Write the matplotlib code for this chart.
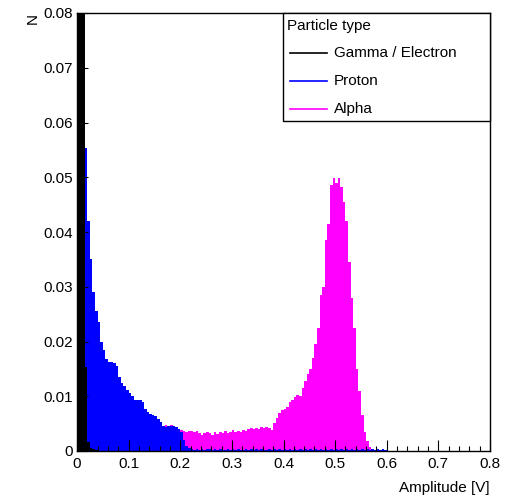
import numpy as np
import matplotlib
matplotlib.use('Agg')
import matplotlib.pyplot as plt
from matplotlib.patches import Rectangle
from matplotlib.lines import Line2D

plt.rcParams['font.family'] = ['Liberation Sans', 'DejaVu Sans']

# Histogram data (bin width 0.005 V)
bin_w = 0.005

gamma_start = 0.0
gamma = [0.20, 0.25, 0.12, 0.0153, 0.0017, 0.0005, 0.0003, 0.0002]

proton_start = 0.0
proton = [0.0, 0.0, 0.030, 0.0553, 0.042, 0.035, 0.029, 0.0255, 0.0235, 0.020,
          0.0185, 0.0168, 0.0162, 0.0162, 0.0160, 0.0155, 0.0135, 0.0125, 0.0118, 0.0112,
          0.0106, 0.0100, 0.0094, 0.0093, 0.0093, 0.0090, 0.0076, 0.0072, 0.0068, 0.0066,
          0.0064, 0.0058, 0.0053, 0.0046, 0.0044, 0.0045, 0.0046, 0.0045, 0.0044, 0.0040,
          0.0034, 0.0020, 0.0009, 0.0006, 0.0003, 0.0002, 0.0003, 0.0002, 0.0003, 0.0002,
          0.0003, 0.0003, 0.0002, 0.0003, 0.0002, 0.0003, 0.0002, 0.0002, 0.0003, 0.0002,
          0.0003, 0.0002, 0.0003, 0.0002, 0.0002, 0.0003, 0.0002, 0.0003, 0.0002, 0.0003,
          0.0002, 0.0003, 0.0002, 0.0002, 0.0003, 0.0002, 0.0003, 0.0002, 0.0003, 0.0002,
          0.0003, 0.0002, 0.0003, 0.0002, 0.0003, 0.0002, 0.0003, 0.0002, 0.0003, 0.0002,
          0.0003, 0.0002, 0.0003, 0.0002, 0.0003, 0.0002, 0.0003, 0.0002, 0.0003, 0.0002,
          0.0003, 0.0002, 0.0003, 0.0002, 0.0003, 0.0002, 0.0003, 0.0002, 0.0003, 0.0002,
          0.0003, 0.0002, 0.0003, 0.0002, 0.0003, 0.0002, 0.0003, 0.0002, 0.0003, 0.0002]

alpha_start = 0.15
alpha = [0.0040, 0.0042, 0.0044, 0.0046, 0.0047, 0.0045, 0.0047, 0.0044, 0.0042, 0.0040,
         0.0038, 0.0036, 0.0035, 0.0037, 0.0036, 0.0034, 0.0036, 0.0033, 0.0030, 0.0033,
         0.0035, 0.0032, 0.0030, 0.0034, 0.0031, 0.0035, 0.0033, 0.0036, 0.0032, 0.0035,
         0.0038, 0.0034, 0.0037, 0.0035, 0.0039, 0.0036, 0.0040, 0.0042, 0.0041, 0.0042,
         0.0041, 0.0043, 0.0042, 0.0043, 0.0042, 0.0038, 0.0052, 0.0060, 0.0070, 0.0074,
         0.0076, 0.0080, 0.0090, 0.0094, 0.0098, 0.0102, 0.0100, 0.0115, 0.0128, 0.0140,
         0.0150, 0.0170, 0.0195, 0.0225, 0.0285, 0.0300, 0.0385, 0.0415, 0.0485, 0.0498,
         0.0490, 0.0498, 0.0483, 0.0455, 0.0420, 0.0345, 0.0280, 0.0224, 0.0150, 0.0110,
         0.0065, 0.0035, 0.0018, 0.0008, 0.0004, 0.0002]

x_ticks = [0, 0.1, 0.2, 0.3, 0.4, 0.5, 0.6, 0.7, 0.8]
x_labels = ['0', '0.1', '0.2', '0.3', '0.4', '0.5', '0.6', '0.7', '0.8']
y_ticks = [0, 0.01, 0.02, 0.03, 0.04, 0.05, 0.06, 0.07, 0.08]
y_labels = ['0', '0.01', '0.02', '0.03', '0.04', '0.05', '0.06', '0.07', '0.08']

names = ['Gamma / Electron', 'Proton', 'Alpha']
colors = ['black', '#0000ff', '#ff00ff']


def draw_hist(ax, start, vals, color, z):
    # filled step histogram
    e = start + bin_w * np.arange(len(vals) + 1)
    v = list(vals) + [vals[-1]]
    ax.fill_between(e, 0, v, step='post', facecolor=color, edgecolor='none',
                    lw=0, zorder=z)


fig = plt.figure(figsize=(5.17, 4.99), dpi=100)
ax = fig.add_axes([77 / 517, 1 - 451 / 499, 413 / 517, 438 / 499])

draw_hist(ax, alpha_start, alpha, colors[2], 1)
draw_hist(ax, proton_start, proton, colors[1], 2)
draw_hist(ax, gamma_start, gamma, colors[0], 3)

ax.set_xlim(0, 0.8)
ax.set_ylim(0, 0.08)
ax.set_xticks(x_ticks)
ax.set_xticklabels(x_labels)
ax.set_yticks(y_ticks)
ax.set_yticklabels(y_labels)
ax.set_xticks(np.arange(0, 0.81, 0.02), minor=True)
ax.set_yticks(np.arange(0, 0.081, 0.002), minor=True)
ax.tick_params(which='major', direction='in', length=8, width=0.8, labelsize=11, pad=4)
ax.tick_params(which='minor', direction='in', length=3.8, width=0.8)
ax.tick_params(axis='x', which='both', top=False)
ax.tick_params(axis='y', which='both', right=False, pad=3)
for s in ax.spines.values():
    s.set_linewidth(1)
    s.set_zorder(5)
ax.set_axisbelow(False)

ax.text(1.0, -0.068, 'Amplitude [V]', transform=ax.transAxes, ha='right', va='top', fontsize=11)
ax.text(-0.108, 1.0, 'N', transform=ax.transAxes, ha='center', va='top', rotation=90, fontsize=11)

# legend box
def axf(px, py):
    return (px - 77) / 413, (451 - py) / 438

x0, y0 = axf(283.3, 121)
ax.add_patch(Rectangle((x0, y0), 1 - x0, 1 - y0, transform=ax.transAxes, facecolor='white',
                       edgecolor='black', lw=1, zorder=10, clip_on=False))
hx, hy = axf(287, 26)
ax.text(hx, hy, 'Particle type', transform=ax.transAxes, ha='left', va='center', fontsize=11, zorder=11)
row_y = [53, 81, 108.5]
for name, c, ry in zip(names, colors, row_y):
    lx0, ly = axf(290, ry)
    lx1, _ = axf(327, ry)
    tx, _ = axf(334, ry)
    ax.add_line(Line2D([lx0, lx1], [ly, ly], color=c, lw=1.2, transform=ax.transAxes, zorder=11))
    ax.text(tx, ly, name, transform=ax.transAxes, ha='left', va='center', fontsize=11, zorder=11)

fig.savefig('out.png', dpi=100)
